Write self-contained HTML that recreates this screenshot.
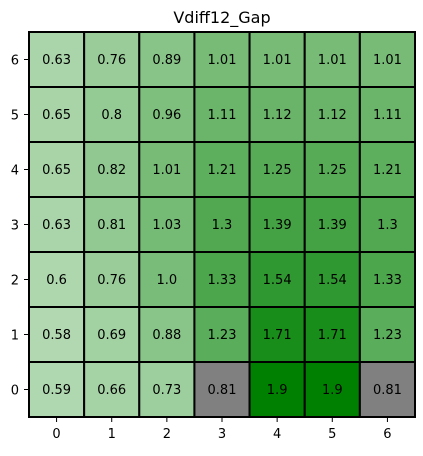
<!DOCTYPE html>
<html><head><meta charset="utf-8"><style>
body{margin:0;background:#fff;font-family:"Liberation Sans","DejaVu Sans",sans-serif}
svg text{font-family:"DejaVu Sans","Liberation Sans",sans-serif}
</style></head><body>
<svg id="c" width="423" height="451">
<text x="222" y="23" font-size="16" text-anchor="middle">Vdiff12_Gap</text>
</svg>
<script>
const xCategories=[0,1,2,3,4,5,6];
const yCategories=[0,1,2,3,4,5,6];
// rows from y=0 (bottom) to y=6 (top)
const row0=["0.59","0.66","0.73","0.81","1.9","1.9","0.81"];
const row1=["0.58","0.69","0.88","1.23","1.71","1.71","1.23"];
const row2=["0.6","0.76","1.0","1.33","1.54","1.54","1.33"];
const row3=["0.63","0.81","1.03","1.3","1.39","1.39","1.3"];
const row4=["0.65","0.82","1.01","1.21","1.25","1.25","1.21"];
const row5=["0.65","0.8","0.96","1.11","1.12","1.12","1.11"];
const row6=["0.63","0.76","0.89","1.01","1.01","1.01","1.01"];
const grayCells=[[3,0],[6,0]];
const maxVal=1.9;
const rows=[row0,row1,row2,row3,row4,row5,row6];
const svg=document.getElementById('c');
const NS='http://www.w3.org/2000/svg';
const L=29,R=415,T=32,B=417;
const cw=(R-L)/xCategories.length, ch=(B-T)/yCategories.length;
const xs=i=>L+i*cw, ys=j=>B-(j+1)*ch;
function mk(t,a){const e=document.createElementNS(NS,t);for(const k in a)e.setAttribute(k,a[k]);svg.appendChild(e);return e;}
rows.forEach((row,j)=>row.forEach((v,i)=>{
  const val=parseFloat(v);
  let fill;
  if(grayCells.some(g=>g[0]===i&&g[1]===j)) fill='#808080';
  else{const a=Math.min(1,val/maxVal);const r=Math.round(255*(1-a)),g=Math.round(255-127*a);fill=`rgb(${r},${g},${r})`;}
  const rc=mk('rect',{x:xs(i),y:ys(j),width:cw,height:ch,fill:fill,stroke:'#000','stroke-width':2});
  
  
  const tx=mk('text',{x:xs(i)+cw/2,y:ys(j)+ch/2+4.5,'font-size':13,'text-anchor':'middle'});
  tx.textContent=v;
  
  
}));
const fr=mk('rect',{x:L,y:T,width:R-L,height:B-T,fill:'none',stroke:'#000','stroke-width':2});


xCategories.forEach((c,i)=>{
  const x=xs(i)+cw/2;
  mk('line',{x1:x,x2:x,y1:B,y2:B+5,stroke:'#000'});
  const t=mk('text',{x:x,y:B+21,'font-size':13,'text-anchor':'middle'});t.textContent=c;
  
  
});
yCategories.forEach((c,j)=>{
  const y=ys(j)+ch/2;
  mk('line',{x1:L-5,x2:L,y1:y,y2:y,stroke:'#000'});
  const t=mk('text',{x:L-10,y:y+5,'font-size':13,'text-anchor':'end'});t.textContent=c;
  
  
});
</script>
</body></html>
